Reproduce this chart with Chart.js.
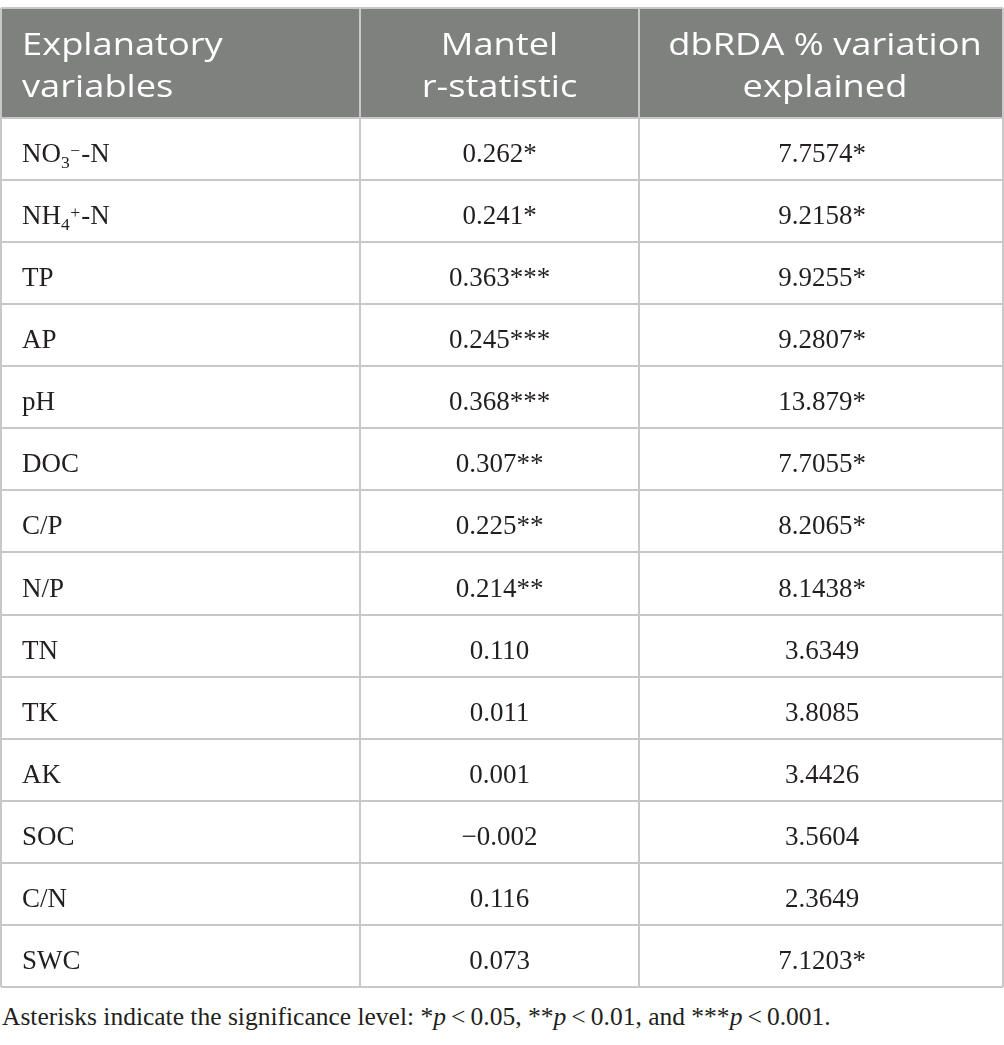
<!DOCTYPE html>
<html>
<head>
<meta charset="utf-8">
<script src="https://cdn.jsdelivr.net/npm/chart.js@4/dist/chart.umd.min.js"></script>
<style>
  html, body { margin: 0; padding: 0; background: #fff; }
  #wrap { position: relative; width: 1004px; height: 1045px; }
  #tableChart { position: absolute; left: 0; top: 0; }
  #note {
    position: absolute; left: 2px; top: 1004px; margin: 0;
    font-family: "Liberation Serif", serif; font-size: 25.5px; line-height: 1;
    color: #231f20; white-space: nowrap;
  }
</style>
</head>
<body>
<div id="wrap">
  <canvas id="tableChart" width="1004" height="990"></canvas>
  <p id="note">Asterisks indicate the significance level: *<i>p</i>&thinsp;&lt;&thinsp;0.05, **<i>p</i>&thinsp;&lt;&thinsp;0.01, and ***<i>p</i>&thinsp;&lt;&thinsp;0.001.</p>
</div>
<script>
// Table content
const headers = [['Explanatory', 'variables'], ['Mantel', 'r-statistic'], ['dbRDA % variation', 'explained']];
// "_x" = subscript, "^x" = superscript
const variables = ['NO_3^−-N', 'NH_4^+-N', 'TP', 'AP', 'pH', 'DOC', 'C/P', 'N/P', 'TN', 'TK', 'AK', 'SOC', 'C/N', 'SWC'];
const mantelR = [0.262, 0.241, 0.363, 0.245, 0.368, 0.307, 0.225, 0.214, 0.110, 0.011, 0.001, -0.002, 0.116, 0.073];
const mantelSig = ['*', '*', '***', '***', '***', '**', '**', '**', '', '', '', '', '', ''];
const dbrdaPct = [7.7574, 9.2158, 9.9255, 9.2807, 13.879, 7.7055, 8.2065, 8.1438, 3.6349, 3.8085, 3.4426, 3.5604, 2.3649, 7.1203];
const dbrdaSig = ['*', '*', '*', '*', '*', '*', '*', '*', '', '', '', '', '', '*'];

// Layout (column edges in px along the x scale, header height in row units)
const colEdges = [0, 359, 638, 1002];
const colAnchor = [21, 498.5, 821];
const headerRows = 1.772;

const fmtR = v => (v < 0 ? '−' : '') + Math.abs(v).toFixed(3);
const fmtPct = v => v.toPrecision(5);

const columnText = [
    variables,
    mantelR.map((v, i) => fmtR(v) + mantelSig[i]),
    dbrdaPct.map((v, i) => fmtPct(v) + dbrdaSig[i])
];

const SERIF = '"Liberation Serif", "Times New Roman", serif';
const SANS = '"Open Sans", "Noto Sans", sans-serif';

// draw text with simple sub/superscripts
function drawRich(ctx, str, x, y, size) {
    let cx = x;
    const small = size * 0.65;
    for (let i = 0; i < str.length; i++) {
        const ch = str[i];
        if ((ch === '_' || ch === '^') && i + 1 < str.length) {
            const s = str[++i];
            ctx.font = small + 'px ' + SERIF;
            ctx.fillText(s, cx, ch === '_' ? y + 6 : y - 6);
            cx += ctx.measureText(s).width + (ch === '_' ? 0.5 : 1);
            continue;
        }
        ctx.font = size + 'px ' + SERIF;
        ctx.fillText(ch, cx, y);
        cx += ctx.measureText(ch).width;
    }
}

const tablePlugin = {
    id: 'tablePlugin',
    beforeDraw(chart) {
        const { ctx, chartArea, scales } = chart;
        const yTop = scales.y.getPixelForValue(-headerRows);
        const yHead = scales.y.getPixelForValue(0);
        ctx.save();
        ctx.fillStyle = '#7f817f';
        ctx.fillRect(chartArea.left, yTop, chartArea.right - chartArea.left, yHead - yTop);
        ctx.restore();
    },
    afterDraw(chart) {
        const { ctx, scales } = chart;
        ctx.save();
        // header
        const yMid = scales.y.getPixelForValue(-headerRows / 2);
        ctx.fillStyle = '#ffffff';
        ctx.font = '31px ' + SANS;
        ctx.textBaseline = 'alphabetic';
        headers.forEach((lines, c) => {
            const px = scales.x.getPixelForValue(colAnchor[c] + (c === 2 ? 3 : 0));
            lines.forEach((line, k) => {
                ctx.save();
                ctx.translate(px, yMid - 8 + k * 42);
                ctx.scale(1.17, 1);
                ctx.textAlign = c === 0 ? 'left' : 'center';
                ctx.fillText(line, 0, 0);
                ctx.restore();
            });
        });
        // body cells from dataset points
        ctx.fillStyle = '#231f20';
        columnText.forEach((texts, c) => {
            const meta = chart.getDatasetMeta(c);
            meta.data.forEach((pt, i) => {
                const y = pt.y + 13;
                if (c === 0) {
                    ctx.textAlign = 'left';
                    drawRich(ctx, texts[i], pt.x, y, 27);
                } else {
                    ctx.textAlign = 'center';
                    ctx.font = '27px ' + SERIF;
                    ctx.fillText(texts[i], pt.x, y);
                }
            });
        });
        ctx.restore();
    }
};

const gridStyle = { color: '#c8c8c8', lineWidth: 2, drawTicks: false };

new Chart(document.getElementById('tableChart'), {
    type: 'scatter',
    data: {
        datasets: columnText.map((texts, c) => ({
            label: 'col' + c,
            data: texts.map((t, i) => ({ x: colAnchor[c], y: i + 0.5 })),
            pointRadius: 0
        }))
    },
    options: {
        responsive: false,
        animation: false,
        events: [],
        layout: { padding: { top: 8, left: 1, right: 1, bottom: 3 } },
        plugins: { legend: { display: false }, tooltip: { enabled: false } },
        scales: {
            x: {
                type: 'linear', min: colEdges[0], max: colEdges[3],
                afterBuildTicks: s => { s.ticks = colEdges.map(v => ({ value: v })); },
                ticks: { display: false },
                border: { display: false },
                grid: gridStyle
            },
            y: {
                type: 'linear', reverse: true, min: -headerRows, max: variables.length,
                afterBuildTicks: s => {
                    s.ticks = [-headerRows].concat(variables.map((v, i) => i), [variables.length]).map(v => ({ value: v }));
                },
                ticks: { display: false },
                border: { display: false },
                grid: gridStyle
            }
        }
    },
    plugins: [tablePlugin]
});
</script>
</body>
</html>
